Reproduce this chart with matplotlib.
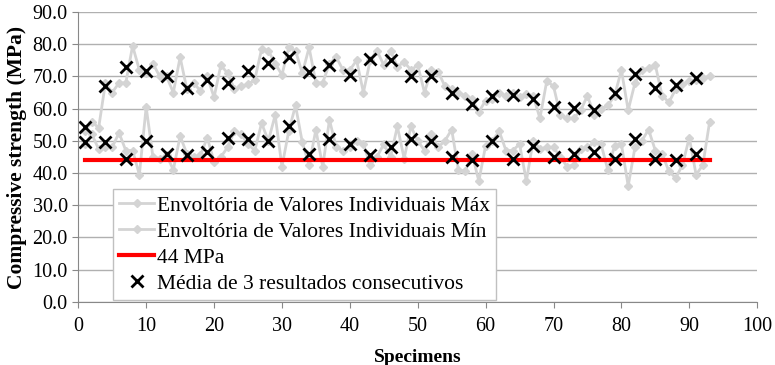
import numpy as np
from matplotlib import pyplot as plt

plt.rcParams['font.family'] = ['Liberation Serif', 'DejaVu Serif']

specimens = list(range(1, 94))

env_max = [53, 56, 54, 68, 65, 68, 68, 79.5, 72, 71, 74, 70,
           70, 65, 76, 66, 68, 65.5, 70, 63.5, 73.5, 71, 66, 67,
           67.5, 69, 78.5, 78, 74, 70.5, 79, 78, 71, 79, 68, 68,
           74, 76, 72, 72, 75, 65, 75, 78, 73.5, 78, 73, 74.5,
           72, 73.5, 65, 72, 71.5, 67, 66, 65, 64, 63, 59, 62.5,
           63, 65, 64, 65, 63.5, 64.5, 64, 57, 68.5, 67, 58, 57,
           57, 59.5, 64, 58, 60, 61, 64, 72, 59.5, 68, 72, 72.5,
           73.5, 64, 62, 66, 67.5, 68.5, 69, 69.5, 70]

env_min = [49, 52, 47.5, 48, 48, 52.5, 47, 47, 39.5, 60.5, 45, 44.5,
           45.5, 41, 51.5, 46, 45, 45.5, 51, 43.5, 45, 48, 53, 52,
           49, 47, 55.5, 50, 58, 42, 53, 61, 49.5, 42.5, 53.5, 42,
           56.5, 48, 47, 48, 50, 49, 42.5, 45, 49, 45, 54.5, 44.5,
           54.5, 50, 47, 52, 48, 50, 53.5, 41, 40.5, 46, 37.5, 48.5,
           50, 53, 47, 47, 49, 37.5, 50, 47.5, 48, 48, 45, 42,
           42.5, 47.5, 48, 49.5, 49, 41, 48.5, 49, 36, 48, 50, 53.5,
           47, 46, 40.5, 38.5, 42.5, 51, 39.5, 42.5, 56]

limit = 44

avg_x = list(range(1, 92, 3))
avg_max = [54.3, 67, 73, 71.7, 70.2, 66.5, 69, 68, 71.7, 74.2, 76,
           71.4, 73.6, 70.5, 75.5, 75.2, 70.2, 70.2, 65, 61.5, 64,
           64.3, 63, 60.5, 60.2, 59.6, 65, 70.8, 66.5, 67.4, 69.6]
avg_min = [49.5, 49.5, 44.5, 50, 46, 45.5, 46.5, 51, 50.5, 50, 54.5,
           46, 50.5, 49, 45.5, 48, 50.5, 50, 45, 44, 50, 44.5, 48.5,
           45, 46, 46.5, 44.5, 50.5, 44.5, 44, 46]

fig = plt.figure(figsize=(7.75, 3.65), dpi=100)
ax = fig.add_axes([0.101, 0.173, 0.876, 0.794])

gray = '#d4d4d4'
ax.plot(specimens, env_max, color=gray, lw=2, marker='D', ms=4,
        label='Envoltória de Valores Individuais Máx')
ax.plot(specimens, env_min, color=gray, lw=2, marker='D', ms=4,
        label='Envoltória de Valores Individuais Mín')
ax.plot([specimens[0], specimens[-1]], [limit, limit], color='#ff0000', lw=3,
        label='44 MPa')
ax.plot(avg_x, avg_max, 'x', color='black', ms=8, mew=2,
        label='Média de 3 resultados consecutivos')
ax.plot(avg_x, avg_min, 'x', color='black', ms=8, mew=2)

ax.set_xlim(0, 100)
ax.set_ylim(0, 90)
ax.set_xticks(range(0, 101, 10))
ax.set_yticks(range(0, 91, 10))
ax.set_yticklabels(['%.1f' % v for v in range(0, 91, 10)])
ax.tick_params(labelsize=14.5, color='#888888', length=4)
ax.tick_params(axis='x', pad=7)
ax.grid(axis='y', color='#b0b0b0', lw=1)
ax.set_axisbelow(True)
for s in ['top', 'right']:
    ax.spines[s].set_visible(False)
for s in ['left', 'bottom']:
    ax.spines[s].set_color('#888888')

ax.set_xlabel('Specimens', fontsize=14, fontweight='bold', labelpad=9)
ax.set_ylabel('Compressive strength (MPa)', fontsize=15.5, fontweight='bold',
              labelpad=4)

leg = ax.legend(loc='lower left', bbox_to_anchor=(0.051, 0.005), fontsize=15.5,
                frameon=True, fancybox=False, handlelength=1.6,
                handletextpad=0.15, borderaxespad=0, borderpad=0.3,
                labelspacing=0.28, framealpha=1)
leg.get_frame().set_edgecolor('#c0c0c0')

fig.savefig('out.png', dpi=100)
